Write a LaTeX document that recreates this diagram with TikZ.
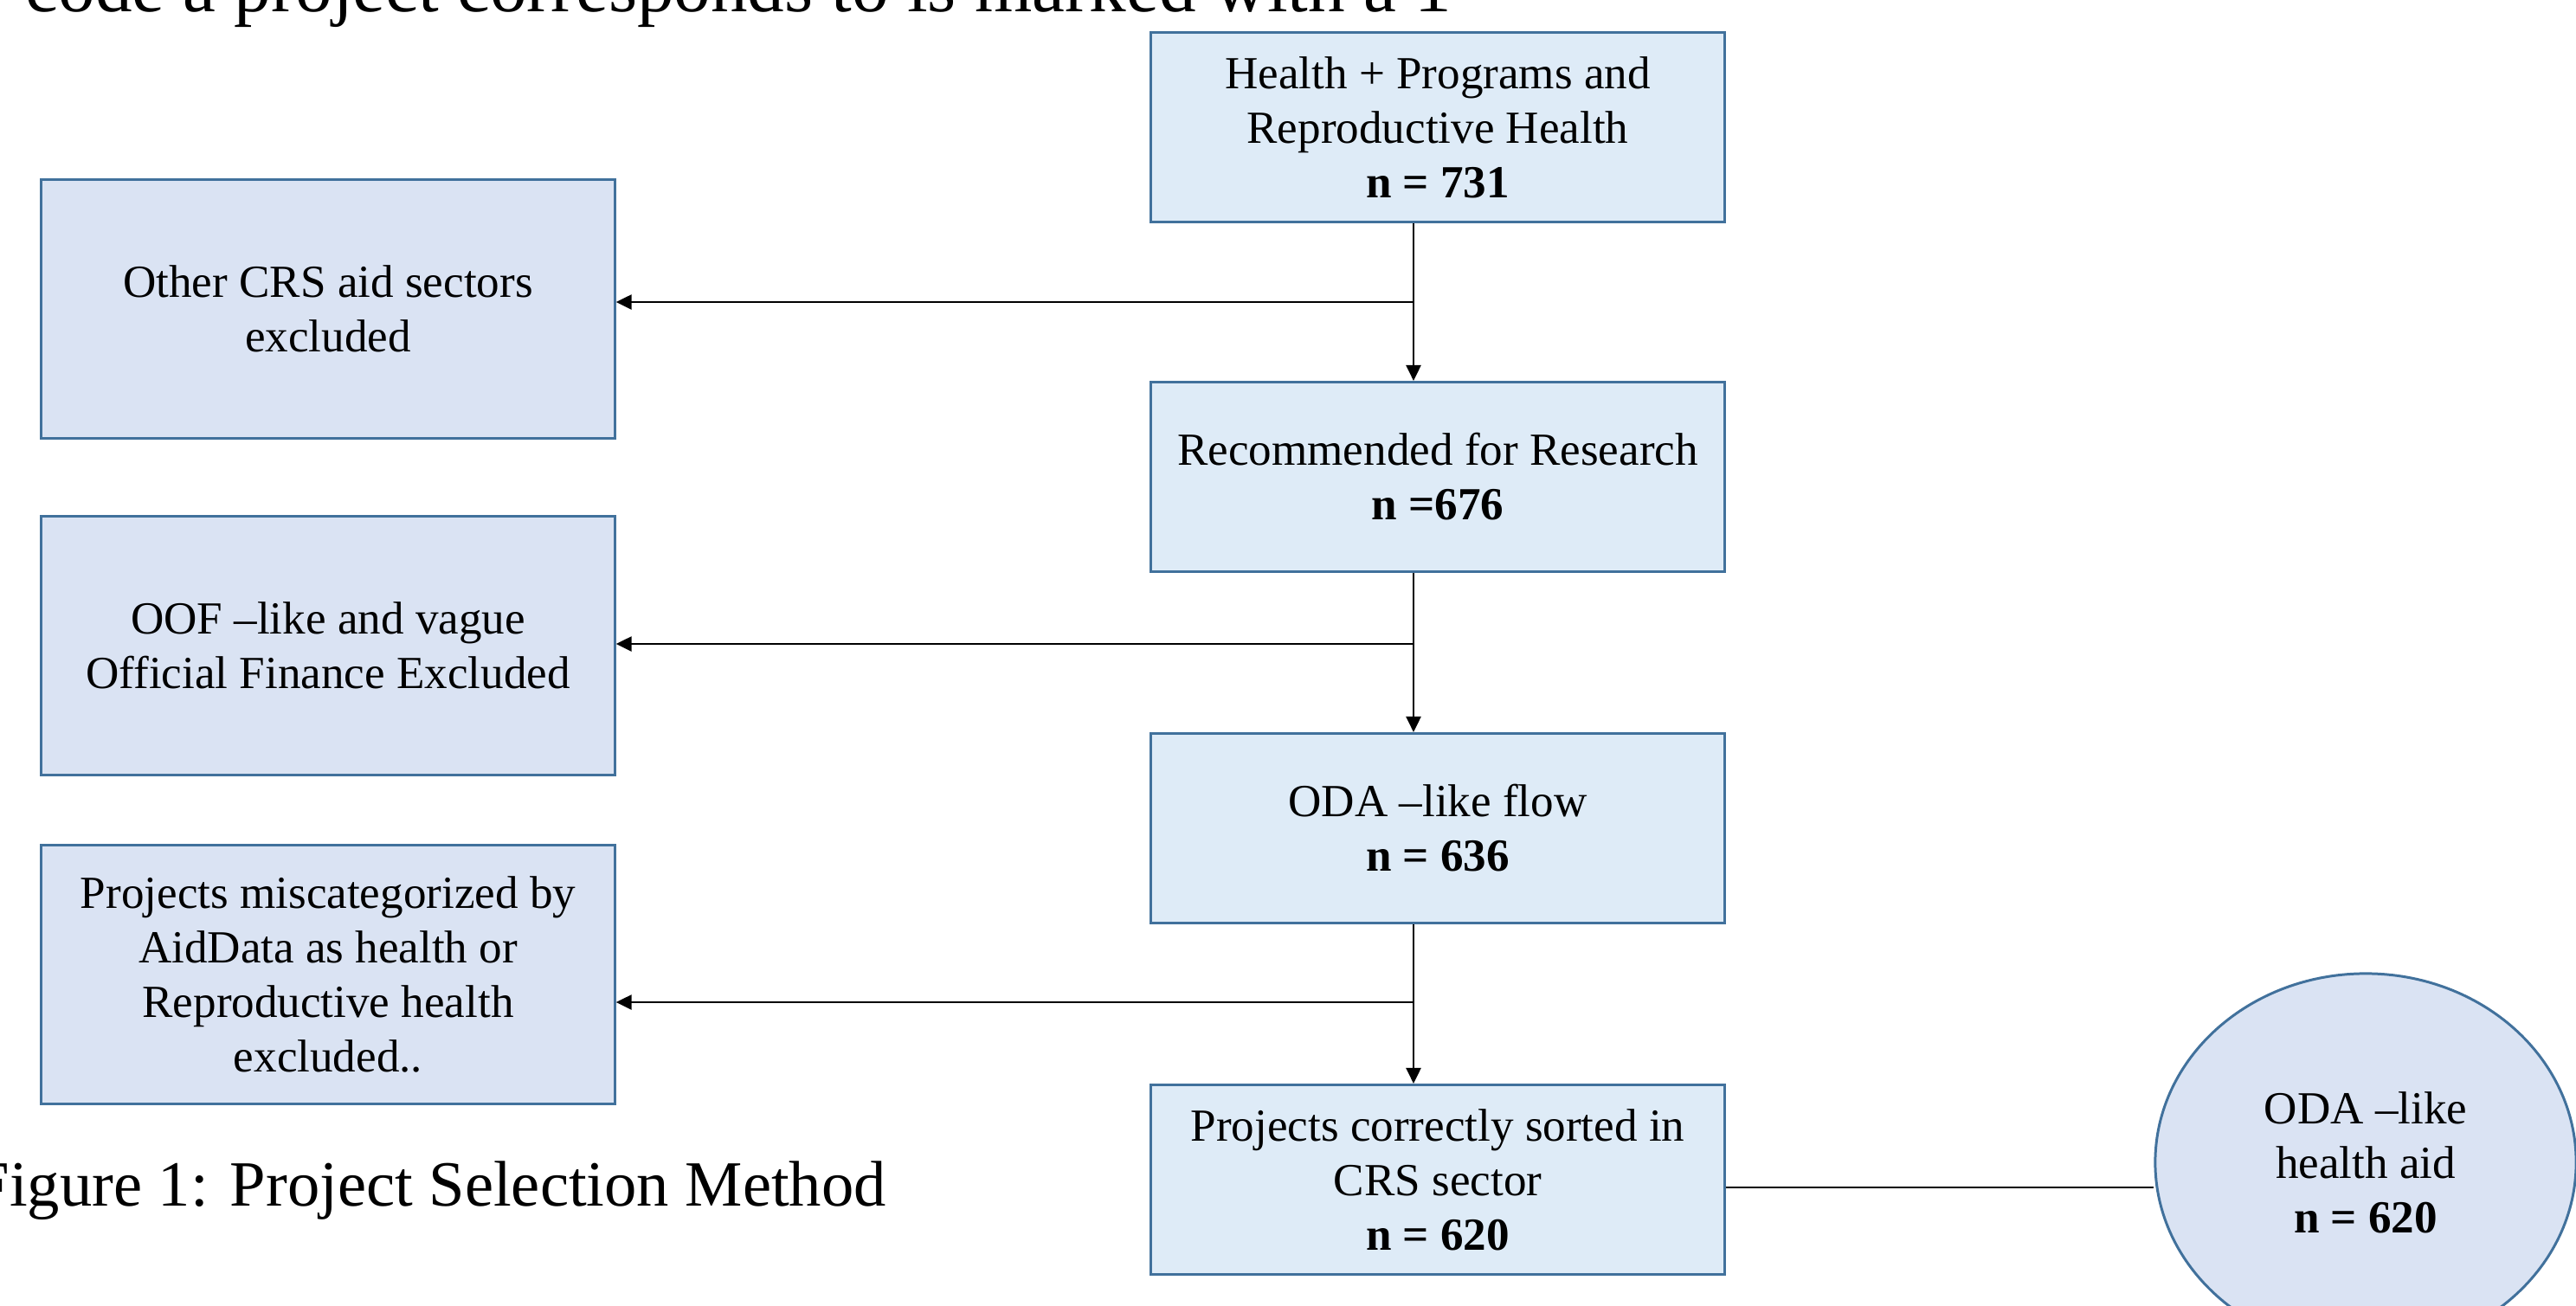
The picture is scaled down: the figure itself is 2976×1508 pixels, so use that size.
\documentclass[tikz,border=0pt]{standalone}
\usepackage{fontspec}
\setmainfont{Liberation Serif}
\usetikzlibrary{arrows.meta,shapes.geometric}
\definecolor{boxedge}{RGB}{65,113,156}
\definecolor{stagefill}{RGB}{222,235,247}
\definecolor{dropfill}{RGB}{218,227,243}
\newcommand{\boxfont}{\fontsize{15.1}{17.9}\selectfont}
\tikzset{
	stagebox/.style={draw=boxedge, line width=0.85pt, fill=stagefill, minimum width=6.62cm, minimum height=2.19cm, align=center, font=\boxfont, inner sep=0pt},
	dropbox/.style={stagebox, fill=dropfill, minimum height=2.99cm},
	resultoval/.style={ellipse, draw=boxedge, line width=0.85pt, fill=dropfill, minimum width=4.86cm, minimum height=4.36cm, align=center, font=\boxfont, inner sep=0pt},
	flow/.style={line width=0.7pt, -{Triangle[length=0.18cm,width=0.17cm]}}
}

\begin{document}
\begin{tikzpicture}[x=0.01cm, y=-0.01cm]
			%%%%% START %%%%%
			\useasboundingbox (0, 0) rectangle (2976, 1508);
			\clip (0, 0) rectangle (2976, 1508);
			
			\node[anchor=base west, inner sep=0pt, font=\fontsize{24.2}{29}\selectfont] (lead) at (29, 13) {code a project corresponds to is marked with a 1};
			\node[anchor=base west, inner sep=0pt, font=\fontsize{21.2}{25}\selectfont] (caption) at (-31, 1393) {Figure 1: Project Selection Method};
			
			\node[stagebox] (b1) at (1661, 147) {Health + Programs and\\Reproductive Health\\\textbf{n = 731}};
			\node[stagebox] (b2) at (1661, 551) {Recommended for Research\\\textbf{n =676}};
			\node[stagebox] (b3) at (1661, 957) {ODA –like flow\\\textbf{n = 636}};
			\node[stagebox] (b4) at (1661, 1363) {Projects correctly sorted in\\CRS sector\\\textbf{n = 620}};
			
			\node[dropbox] (l1) at (379, 357) {Other CRS aid sectors\\excluded};
			\node[dropbox] (l2) at (379, 746) {OOF –like and vague\\Official Finance Excluded};
			\node[dropbox] (l3) at (379, 1126) {Projects miscategorized by\\AidData as health or\\Reproductive health\\excluded..};
			
			\node[resultoval] (oda) at (2733, 1343) {ODA –like\\health aid\\\textbf{n = 620}};
			
			\coordinate (j1) at (1633, 349);
			\coordinate (j2) at (1633, 744);
			\coordinate (j3) at (1633, 1158);
			
			\draw[flow] (b1.south -| j1) -- (b2.north -| j1);
			\draw[flow] (b2.south -| j2) -- (b3.north -| j2);
			\draw[flow] (b3.south -| j3) -- (b4.north -| j3);
			
			\draw[flow] (j1) -- (l1.east |- j1);
			\draw[flow] (j2) -- (l2.east |- j2);
			\draw[flow] (j3) -- (l3.east |- j3);
			
			\draw[line width=0.7pt] ([yshift=-0.09cm]b4.east) -- ([yshift=-0.09cm]b4.east -| oda.west);
			%%%%% END %%%%%
\end{tikzpicture}
\end{document}
